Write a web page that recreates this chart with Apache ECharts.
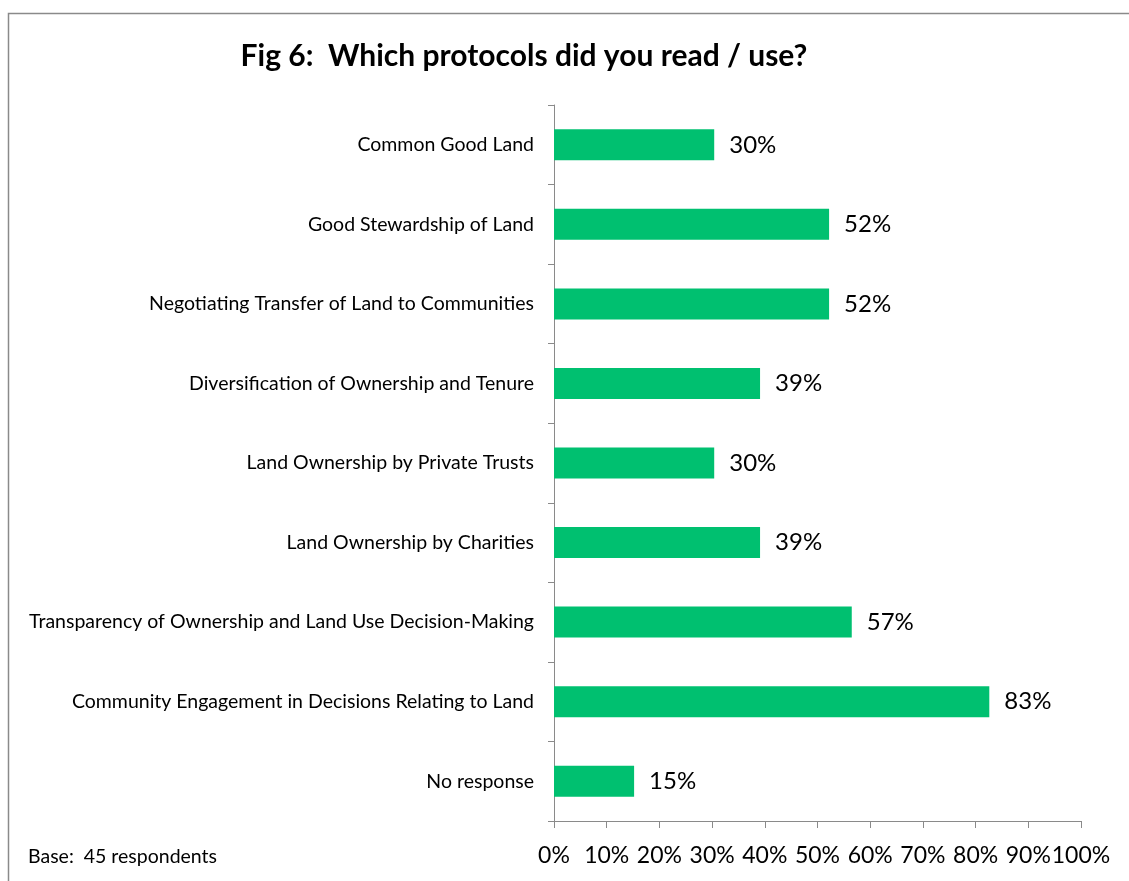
<!DOCTYPE html>
<html><head><meta charset="utf-8">
<script src="https://cdn.jsdelivr.net/npm/echarts@6/dist/echarts.min.js"></script>
<style>html,body{margin:0;padding:0;background:#fff}#c{width:1129px;height:881px}</style>
</head><body><div id="c"></div>
<script>
const categories = [
  "Common Good Land",
  "Good Stewardship of Land",
  "Negotiating Transfer of Land to Communities",
  "Diversification of Ownership and Tenure",
  "Land Ownership by Private Trusts",
  "Land Ownership by Charities",
  "Transparency of Ownership and Land Use Decision-Making",
  "Community Engagement in Decisions Relating to Land",
  "No response"
];
const values = [30.4, 52.2, 52.2, 39.1, 30.4, 39.1, 56.5, 82.6, 15.2];
const xTicks = [0, 10, 20, 30, 40, 50, 60, 70, 80, 90, 100];
const titleText = "Fig 6:  Which protocols did you read / use?";
const baseText = "Base:  45 respondents";

const FONT = "Lato, 'Open Sans', sans-serif";
const chart = echarts.init(document.getElementById('c'), null, {renderer: 'canvas'});
chart.setOption({
  animation: false,
  backgroundColor: '#fff',
  title: {
    text: titleText, left: 519, top: 36, textAlign: 'center',
    textStyle: {fontFamily: FONT, fontSize: 30, fontWeight: 'bold', color: '#000'}
  },
  graphic: [
    {type: 'rect', shape: {x: 8.5, y: 13.5, width: 1140, height: 900}, style: {fill: 'none', stroke: '#8a8a8a', lineWidth: 1.5}, z: -1},
    {type: 'text', left: 28, top: 847, style: {text: baseText, font: '19.5px ' + FONT, fill: '#000'}}
  ],
  grid: {left: 554, right: 48, top: 105, bottom: 60, containLabel: false},
  xAxis: {
    type: 'value', min: 0, max: 100, interval: 10,
    axisLine: {show: true, lineStyle: {color: '#8a8a8a', width: 1}},
    axisTick: {show: true, length: 7, lineStyle: {color: '#8a8a8a'}},
    splitLine: {show: false},
    axisLabel: {margin: 23, fontFamily: FONT, fontSize: 23, color: '#000', showMaxLabel: true, showMinLabel: true, hideOverlap: false,
      formatter: v => xTicks.includes(v) ? v + '%' : ''}
  },
  yAxis: {
    type: 'category', data: categories, inverse: true,
    axisLine: {show: true, lineStyle: {color: '#8a8a8a', width: 1}},
    axisTick: {show: true, length: 6, lineStyle: {color: '#8a8a8a'}},
    axisLabel: {margin: 20, fontFamily: FONT, fontSize: 19.5, color: '#000'}
  },
  series: [{
    type: 'bar', data: values, barWidth: '39%',
    itemStyle: {color: '#00C070'},
    label: {show: true, position: 'right', distance: 15, fontFamily: FONT, fontSize: 24, color: '#000',
      formatter: p => Math.round(p.value) + '%'}
  }]
});
</script></body></html>
